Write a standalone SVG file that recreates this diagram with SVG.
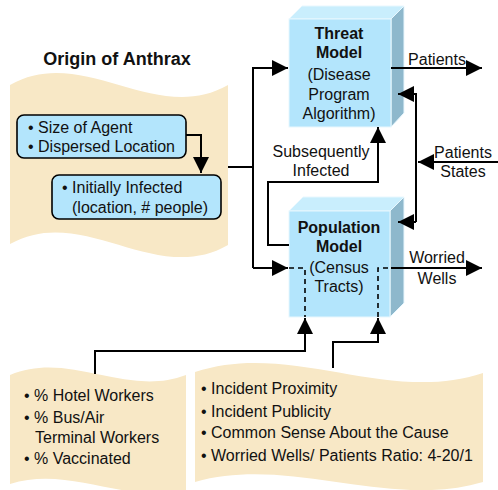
<svg xmlns="http://www.w3.org/2000/svg" width="498" height="490" viewBox="0 0 498 490">
  <defs>
    <style>
      text { font-family: "Liberation Sans", Arial, sans-serif; font-size: 16px; fill: #111; }
      .b { font-weight: bold; }
      .mid { text-anchor: middle; }
      .paper { fill: #F8E8C6; stroke: none; }
      .note { fill: #B3E5FC; stroke: #000; stroke-width: 1.6; }
      .front { fill: #B3E5FC; stroke: #E8F7FE; stroke-width: 1; }
      .top { fill: #C9EEFD; stroke: #E8F7FE; stroke-width: 1; }
      .side { fill: #8EB8CC; stroke: #E8F7FE; stroke-width: 1; }
      .wire { fill: none; stroke: #000; stroke-width: 2; }
      .dash { fill: none; stroke: #000; stroke-width: 1.6; stroke-dasharray: 5 4; }
    </style>
    <marker id="arrow" viewBox="0 0 16 16" refX="16" refY="8" markerWidth="16" markerHeight="16" markerUnits="userSpaceOnUse" orient="auto">
      <path d="M0,0 L16,8 L0,16 Z" fill="#000"/>
    </marker>
  </defs>

  <!-- origin sheet -->
  <g id="origin">
    <text class="b mid" x="117" y="65" style="font-size:18px">Origin of Anthrax</text>
    <path class="paper" d="M10,85 C83,43.5 155,126.5 228,85 L228,245 C155,287 83,203 10,244 Z"/>
  </g>

  <g id="agent">
    <rect class="note" x="17" y="115" width="169" height="43" rx="7"/>
    <text x="28" y="133">• Size of Agent</text>
    <text x="28" y="152">• Dispersed Location</text>
  </g>

  <g id="infected">
    <rect class="note" x="52" y="175" width="169" height="44" rx="7"/>
    <text x="62" y="193">• Initially Infected</text>
    <text x="72" y="213">(location, # people)</text>
  </g>

  <!-- threat model block -->
  <g id="threat">
    <polygon class="top" points="289,19 302,6 404,6 391,19"/>
    <polygon class="side" points="391,19 404,6 404,113 391,127"/>
    <rect class="front" x="289" y="19" width="102" height="108"/>
    <text class="b mid" x="339" y="39">Threat</text>
    <text class="b mid" x="339" y="58">Model</text>
    <text class="mid" x="339" y="80">(Disease</text>
    <text class="mid" x="339" y="100">Program</text>
    <text class="mid" x="339" y="119">Algorithm)</text>
  </g>

  <!-- population model block -->
  <g id="population">
    <polygon class="top" points="289,211 303,197 404,197 390,211"/>
    <polygon class="side" points="390,211 404,197 404,303 390,317"/>
    <rect class="front" x="289" y="211" width="101" height="106"/>
    <text class="b mid" x="339" y="233">Population</text>
    <text class="b mid" x="339" y="252">Model</text>
    <text class="mid" x="339" y="273">(Census</text>
    <text class="mid" x="339" y="292">Tracts)</text>
  </g>

  <!-- bottom sheets -->
  <g id="demographics">
    <path class="paper" d="M10,375 C70,350 126,398 186,375 L186,490 C126,505 70,465 10,484 Z"/>
    <text x="24" y="401">• % Hotel Workers</text>
    <text x="24" y="423">• % Bus/Air</text>
    <text x="35" y="443">Terminal Workers</text>
    <text x="24" y="464">• % Vaccinated</text>
  </g>

  <g id="perception">
    <path class="paper" d="M195,372 C290,340 388,405 483,373 L483,482 C388,510 290,455 195,482 Z"/>
    <text x="201" y="394">• Incident Proximity</text>
    <text x="201" y="417">• Incident Publicity</text>
    <text x="201" y="438">• Common Sense About the Cause</text>
    <text x="201" y="461">• Worried Wells/ Patients Ratio: 4-20/1</text>
  </g>

  <!-- connectors -->
  <g id="connectors">
    <path class="wire" d="M186,135 H201 V173" marker-end="url(#arrow)"/>
    <path class="wire" d="M228,167 H253"/>
    <path class="wire" d="M253,268 V68 H288" marker-end="url(#arrow)"/>
    <path class="wire" d="M253,268 H288" marker-end="url(#arrow)"/>
    <path class="dash" d="M289,268 H305 V317"/>
    <path class="dash" d="M378,317 V268 H391"/>

    <path class="wire" d="M391,68 H482" marker-end="url(#arrow)"/>
    <text class="mid" x="437" y="65">Patients</text>

    <path class="wire" d="M498,162 H418" marker-end="url(#arrow)"/>
    <text class="mid" x="463" y="158">Patients</text>
    <text class="mid" x="463" y="177">States</text>
    <path class="wire" d="M416,222 V94 H398" marker-end="url(#arrow)"/>
    <path class="wire" d="M416,222 H398" marker-end="url(#arrow)"/>

    <path class="wire" d="M289,245 H268 V182 H378 V127" marker-end="url(#arrow)"/>
    <text class="mid" x="321" y="157">Subsequently</text>
    <text class="mid" x="321" y="176">Infected</text>

    <path class="wire" d="M391,268 H482" marker-end="url(#arrow)"/>
    <text class="mid" x="437" y="263">Worried</text>
    <text class="mid" x="437" y="284">Wells</text>

    <path class="wire" d="M95,374 V351 H305 V318" marker-end="url(#arrow)"/>
    <path class="wire" d="M333,368 V342 H378 V318" marker-end="url(#arrow)"/>
  </g>
</svg>
